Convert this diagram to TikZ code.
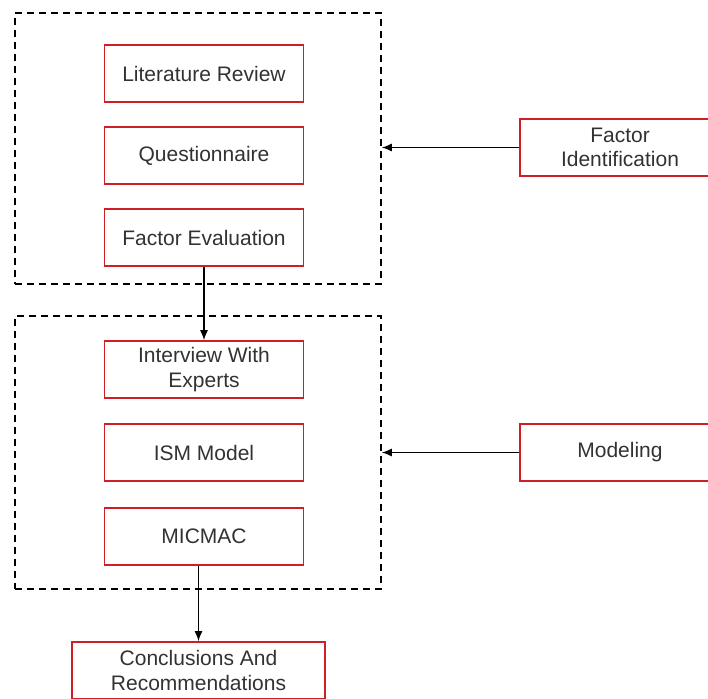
\documentclass[tikz,border=0pt]{standalone}
\usepackage{fontspec}
\setmainfont{Liberation Sans}
\usetikzlibrary{arrows.meta}
\definecolor{boxred}{RGB}{204,32,38}
\definecolor{textgray}{RGB}{50,50,50}

\begin{document}
\begin{tikzpicture}[
            x=1pt, y=-1pt,
            red box/.style={draw=boxred, line width=1.6pt, minimum width=199pt, minimum height=57pt,
                            align=center, inner sep=0pt, text=textgray, font=\fontsize{21}{24.5}\selectfont},
            group box/.style={draw, line width=1.5pt, dash pattern=on 7pt off 5pt, inner sep=0pt},
            link/.style={line width=1.4pt, -{Latex[length=10pt,width=8pt]}},
            ]
            \clip (0,0) rectangle (708,698);
            \def\X{204}

            \node[group box, minimum width=366pt, minimum height=271pt] (g1) at (198,148.5) {};
            \node[group box, minimum width=366pt, minimum height=273pt] (g2) at (198,452.5) {};

            \node[red box] (lit) at (\X,73.5) {Literature Review};
            \node[red box] (quest) at (\X,155.5) {Questionnaire};
            \node[red box] (eval) at (\X,237.5) {Factor Evaluation};
            \node[red box] (interview) at (\X,369.5) {Interview With\\Experts};
            \node[red box] (ism) at (\X,452.5) {ISM Model};
            \node[red box] (micmac) at (\X,536.5) {MICMAC};

            \node[red box, minimum width=200pt] (ident) at (620,147.5) {Factor\\Identification};
            \node[red box, minimum width=200pt] (model) at (620,452.5) {Modeling};
            \node[red box, minimum width=253pt] (concl) at (198.5,670.5) {Conclusions And\\Recommendations};

            \draw[link] (eval) -- (interview);
            \draw[link] (ident) -- (ident -| g1.east);
            \draw[link] (model) -- (model -| g2.east);
            \draw[link] (micmac.south -| concl.north) -- (concl);
        \end{tikzpicture}
\end{document}
